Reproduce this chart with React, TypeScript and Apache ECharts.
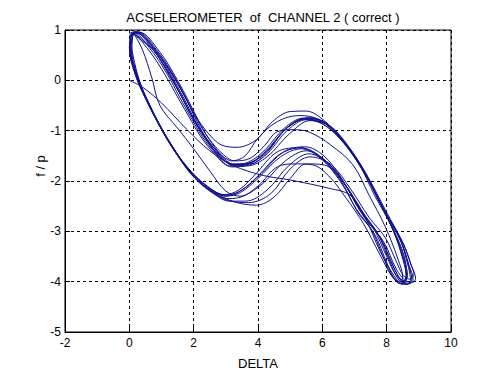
import React, { useEffect, useRef } from "react";
import * as echarts from "echarts";

const titleText = "ACSELEROMETER  of  CHANNEL 2 ( correct )";
const xName = "DELTA";
const yName = "f / p";

const xTicks = { min: -2, max: 10, interval: 2 };
const yTicks = { min: -5, max: 1, interval: 1 };

// transient start from (0,0)
const transient: number[][] = [
  [0.0, 0.0], [0.42, -0.14], [1.0, -0.45], [1.78, -0.97], [2.5, -1.4], [3.22, -1.69],
  [4.16, -1.89], [5.0, -1.98], [6.24, -2.15], [6.86, -2.28], [7.3, -2.68], [7.8, -3.4],
  [8.3, -3.95], [8.5, -4.05],
];
// back up along the right band
const riseFirst: number[][] = [
  [8.6, -3.85], [8.5, -3.45], [8.15, -2.9], [7.62, -2.2], [7.1, -1.6], [6.5, -1.12],
  [5.95, -0.85], [5.4, -0.78], [4.8, -1.0], [4.3, -1.42], [3.75, -1.66], [3.2, -1.66],
  [2.72, -1.45], [2.3, -1.08], [1.95, -0.72], [1.6, -0.3], [1.2, 0.15], [0.72, 0.62],
  [0.12, 0.95],
];
// diagonal crossing down to the lower band
const diagonal: number[][] = [
  [0.4, 0.62], [0.7, 0.05], [0.95, -0.5], [1.5, -0.95], [2.0, -1.36], [2.5, -1.8],
  [3.0, -2.2], [3.45, -2.3], [4.0, -2.1], [4.6, -1.72], [5.2, -1.66], [5.7, -1.68],
  [6.2, -1.9], [6.75, -2.35], [7.28, -2.85], [7.78, -3.45], [8.15, -3.88], [8.42, -4.04],
  [8.62, -3.9], [8.55, -3.5], [8.2, -2.95], [7.68, -2.28], [7.15, -1.68], [6.55, -1.16],
  [6.0, -0.86], [5.45, -0.76], [4.85, -0.97], [4.3, -1.4], [3.75, -1.64], [3.22, -1.67],
  [2.74, -1.47], [2.32, -1.1], [1.96, -0.74], [1.62, -0.32], [1.22, 0.13], [0.75, 0.6],
  [0.15, 0.96],
];

const loopA: number[][] = [
  [0.22, 0.97], [0.82, 0.6], [1.35, 0.1], [1.75, -0.35], [2.05, -0.7], [2.45, -1.05],
  [2.85, -1.28], [3.35, -1.33], [3.95, -1.18], [4.45, -0.82], [5.0, -0.62], [5.5, -0.61],
  [5.9, -0.72], [6.45, -1.05], [7.1, -1.6], [7.65, -2.25], [8.15, -2.9], [8.5, -3.5],
  [8.65, -3.88], [8.55, -3.98], [8.3, -3.88], [8.0, -3.5], [7.6, -2.95], [7.1, -2.5],
  [6.6, -1.95], [6.05, -1.5], [5.45, -1.32], [4.8, -1.42], [4.1, -1.85], [3.5, -2.18],
  [3.0, -2.28], [2.4, -2.1], [1.8, -1.72], [1.3, -1.28], [0.88, -0.82], [0.48, -0.3],
  [0.2, 0.15], [0.02, 0.62], [0.08, 0.92],
];
const loopB: number[][] = [
  [0.28, 0.95], [0.9, 0.56], [1.42, 0.05], [1.8, -0.4], [2.12, -0.8], [2.48, -1.16],
  [2.88, -1.45], [3.28, -1.6], [3.75, -1.55], [4.2, -1.3], [4.6, -1.02], [5.1, -0.98],
  [5.6, -1.03], [6.25, -1.28], [6.95, -1.68], [7.45, -2.28], [7.95, -2.9], [8.35, -3.55],
  [8.5, -3.92], [8.4, -4.0], [8.18, -3.9], [7.95, -3.6], [7.55, -3.0], [7.05, -2.55],
  [6.55, -2.0], [5.95, -1.55], [5.35, -1.36], [4.7, -1.52], [4.0, -1.95], [3.45, -2.23],
  [3.0, -2.3], [2.4, -2.1], [1.82, -1.76], [1.32, -1.3], [0.9, -0.86], [0.5, -0.35],
  [0.2, 0.1], [0.03, 0.6], [0.12, 0.92],
];
const loopC: number[][] = [
  [0.15, 0.97], [0.75, 0.6], [1.27, 0.1], [1.66, -0.36], [2.0, -0.78], [2.35, -1.15],
  [2.8, -1.5], [3.22, -1.68], [3.72, -1.62], [4.22, -1.38], [4.82, -0.95], [5.42, -0.75],
  [6.02, -0.82], [6.6, -1.18], [7.25, -1.78], [7.85, -2.5], [8.42, -3.15], [8.7, -3.68],
  [8.82, -3.95], [8.72, -4.04], [8.48, -3.98], [8.22, -3.72], [7.82, -3.15], [7.3, -2.72],
  [6.75, -2.12], [6.12, -1.62], [5.5, -1.4], [4.85, -1.6], [4.15, -2.05], [3.55, -2.3],
  [3.1, -2.35], [2.45, -2.15], [1.85, -1.8], [1.35, -1.35], [0.95, -0.9], [0.55, -0.4],
  [0.25, 0.05], [0.05, 0.55], [0.05, 0.9],
];
const loopD: number[][] = [
  [0.1, 0.96], [0.68, 0.6], [1.18, 0.12], [1.56, -0.33], [1.92, -0.74], [2.27, -1.12],
  [2.72, -1.48], [3.18, -1.72], [3.75, -1.68], [4.3, -1.45], [4.9, -1.0], [5.52, -0.78],
  [6.12, -0.87], [6.72, -1.25], [7.35, -1.85], [7.92, -2.58], [8.5, -3.22], [8.78, -3.7],
  [8.9, -3.93], [8.8, -4.02], [8.58, -3.98], [8.3, -3.75], [7.9, -3.2], [7.38, -2.78],
  [6.82, -2.18], [6.2, -1.66], [5.58, -1.46], [4.95, -1.7], [4.28, -2.18], [3.62, -2.4],
  [3.12, -2.4], [2.52, -2.2], [1.92, -1.85], [1.42, -1.4], [1.0, -0.95], [0.6, -0.45],
  [0.3, 0.0], [0.08, 0.5], [0.02, 0.88],
];
const loopE: number[][] = [
  [0.05, 0.95], [0.6, 0.6], [1.1, 0.12], [1.5, -0.33], [1.86, -0.73], [2.2, -1.1],
  [2.66, -1.47], [3.12, -1.7], [3.65, -1.7], [4.28, -1.52], [4.98, -1.06], [5.62, -0.8],
  [6.22, -0.9], [6.8, -1.3], [7.4, -1.9], [7.98, -2.6], [8.52, -3.25], [8.75, -3.65],
  [8.85, -3.85], [8.72, -3.95], [8.52, -3.88], [8.3, -3.6], [7.95, -3.12], [7.45, -2.72],
  [6.9, -2.18], [6.28, -1.68], [5.62, -1.52], [5.0, -1.76], [4.4, -2.25], [3.7, -2.43],
  [3.15, -2.4], [2.5, -2.2], [1.9, -1.85], [1.42, -1.4], [1.0, -0.96], [0.62, -0.48],
  [0.32, -0.02], [0.12, 0.48], [0.03, 0.85],
];
const loopF: number[][] = [
  [0.2, 0.94], [0.85, 0.55], [1.4, 0.04], [1.8, -0.42], [2.1, -0.82], [2.42, -1.17],
  [2.82, -1.46], [3.2, -1.6], [3.6, -1.5], [4.0, -1.15], [4.6, -0.82], [5.3, -0.7],
  [5.9, -0.78], [6.48, -1.1], [7.1, -1.62], [7.62, -2.28], [8.18, -2.95], [8.5, -3.55],
  [8.62, -3.95], [8.5, -4.05], [8.28, -3.98], [8.02, -3.65], [7.62, -3.05], [7.1, -2.62],
  [6.6, -2.02], [5.98, -1.56], [5.32, -1.34], [4.6, -1.42], [3.9, -1.88], [3.4, -2.18],
  [2.95, -2.27], [2.38, -2.08], [1.78, -1.72], [1.28, -1.28], [0.88, -0.83], [0.48, -0.3],
  [0.18, 0.15], [0.0, 0.65], [0.1, 0.93],
];
const loopG: number[][] = [
  [0.3, 0.96], [0.95, 0.56], [1.48, 0.02], [1.85, -0.42], [2.15, -0.8], [2.48, -1.17],
  [2.88, -1.5], [3.28, -1.68], [3.78, -1.63], [4.25, -1.4], [4.88, -0.96], [5.52, -0.76],
  [6.08, -0.84], [6.65, -1.2], [7.3, -1.8], [7.85, -2.5], [8.4, -3.12], [8.65, -3.62],
  [8.78, -3.95], [8.66, -4.05], [8.44, -3.98], [8.2, -3.68], [7.78, -3.1], [7.26, -2.62],
  [6.68, -2.05], [6.05, -1.68], [5.5, -1.66], [5.0, -1.95], [4.5, -2.32], [3.95, -2.48],
  [3.3, -2.42], [2.6, -2.22], [1.95, -1.88], [1.45, -1.42], [1.02, -0.97], [0.62, -0.47],
  [0.3, 0.0], [0.08, 0.5], [0.1, 0.9],
];
const loopH: number[][] = [
  [0.22, 0.95], [0.8, 0.6], [1.3, 0.1], [1.7, -0.36], [2.02, -0.77], [2.38, -1.14],
  [2.84, -1.5], [3.25, -1.7], [3.8, -1.64], [4.35, -1.35], [4.95, -0.92], [5.6, -0.74],
  [6.15, -0.86], [6.68, -1.22], [7.32, -1.84], [7.88, -2.55], [8.45, -3.22], [8.68, -3.72],
  [8.74, -3.98], [8.6, -4.06], [8.36, -3.95], [8.1, -3.6], [7.68, -3.0], [7.16, -2.58],
  [6.64, -2.0], [6.0, -1.54], [5.32, -1.34], [4.65, -1.48], [4.0, -1.9], [3.45, -2.2],
  [2.98, -2.3], [2.4, -2.1], [1.8, -1.74], [1.3, -1.3], [0.9, -0.86], [0.5, -0.36],
  [0.2, 0.08], [0.01, 0.6], [0.15, 0.95],
];

const trajectory: number[][] = [
  ...transient, ...riseFirst, ...diagonal,
  ...loopA, ...loopB, ...loopC, ...loopD, ...loopE, ...loopF, ...loopG, ...loopH,
];

const FONT = "'Liberation Sans', Arial, sans-serif";

export default function App() {
  const ref = useRef<HTMLDivElement>(null);
  useEffect(() => {
    if (!ref.current) return;
    const chart = echarts.init(ref.current, undefined, { renderer: "svg" });
    const axisCommon = {
      axisLine: { show: true, onZero: false, lineStyle: { color: "#000", width: 1 } },
      axisTick: { show: true, inside: true, length: 5, lineStyle: { color: "#000" } },
      splitLine: { show: true, lineStyle: { color: "#000", type: [3, 3], width: 1 } },
    };
    chart.setOption({
      animation: false,
      backgroundColor: "#fff",
      grid: { left: 65, right: 49, top: 30, bottom: 42, show: true, borderColor: "#000", borderWidth: 1, backgroundColor: "transparent" },
      title: {
        text: titleText,
        left: 258,
        textAlign: "center",
        top: 6,
        textStyle: { fontFamily: FONT, fontSize: 13, fontWeight: "normal", color: "#000" },
      },
      xAxis: {
        type: "value",
        min: xTicks.min,
        max: xTicks.max,
        interval: xTicks.interval,
        name: xName,
        nameLocation: "middle",
        nameGap: 25,
        nameTextStyle: { fontFamily: FONT, fontSize: 13, color: "#000" },
        axisLabel: { fontFamily: FONT, fontSize: 12, color: "#000", margin: 5 },
        ...axisCommon,
      },
      yAxis: {
        type: "value",
        min: yTicks.min,
        max: yTicks.max,
        interval: yTicks.interval,
        axisLabel: { fontFamily: FONT, fontSize: 12, color: "#000", margin: 4 },
        ...axisCommon,
      },
      graphic: [
        {
          type: "text",
          x: 40,
          y: 166,
          rotation: Math.PI / 2,
          style: { text: yName, fontFamily: FONT, fontSize: 13, fill: "#000", textAlign: "center", textVerticalAlign: "middle" },
        },
      ],
      series: [
        {
          type: "line",
          data: trajectory,
          showSymbol: false,
          smooth: 0.35,
          lineStyle: { color: "#10108c", width: 1 },
          clip: true,
        },
      ],
    });
    return () => chart.dispose();
  }, []);
  return <div ref={ref} style={{ position: "fixed", left: 0, top: 0, width: 500, height: 375 }} />;
}
